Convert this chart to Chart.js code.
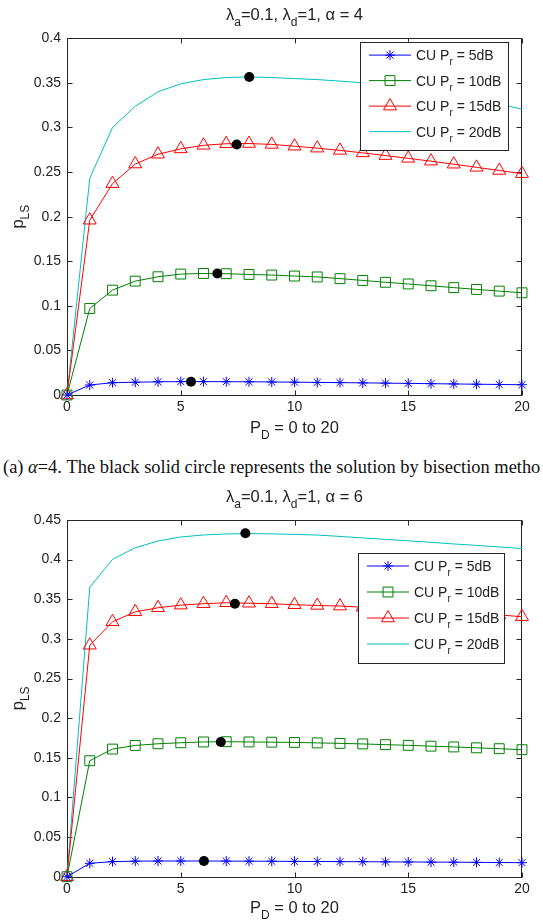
<!DOCTYPE html>
<html><head><meta charset="utf-8">
<script src="https://cdn.jsdelivr.net/npm/chart.js@4.4.0/dist/chart.umd.min.js"></script>
<style>
html,body{margin:0;padding:0;background:#fff;width:543px;height:920px;overflow:hidden;}
.wrap{position:absolute;left:0;width:543px;}
#w1{top:0;height:445px}
#w2{top:480px;height:440px}
#cap{position:absolute;left:3px;top:456px;white-space:nowrap;font-family:"Liberation Serif","DejaVu Serif",serif;font-size:16px;line-height:22px;color:#111;}
</style></head><body>
<div class="wrap" id="w1"><canvas id="c1"></canvas></div>
<div id="cap">(a) <i>α</i>=4. The black solid circle represents the solution by bisection metho</div>
<div class="wrap" id="w2"><canvas id="c2"></canvas></div>
<script>
// ---------- data ----------
const pd = [0,1,2,3,4,5,6,7,8,9,10,11,12,13,14,15,16,17,18,19,20];
const xTicks = [0,5,10,15,20];
const xTickLabels = ['0','5','10','15','20'];
const yTicksA = [0,0.05,0.1,0.15,0.2,0.25,0.3,0.35,0.4];
const yTickLabelsA = ['0','0.05','0.1','0.15','0.2','0.25','0.3','0.35','0.4'];
const yTicksB = [0,0.05,0.1,0.15,0.2,0.25,0.3,0.35,0.4,0.45];
const yTickLabelsB = ['0','0.05','0.1','0.15','0.2','0.25','0.3','0.35','0.4','0.45'];
const seriesLabels = ['CU P_r = 5dB','CU P_r = 10dB','CU P_r = 15dB','CU P_r = 20dB'];

// alpha = 4
const a4_5dB  = [0,0.0112,0.0138,0.0143,0.0148,0.0150,0.0150,0.0149,0.0148,0.0146,0.0144,0.0141,0.0139,0.0136,0.0133,0.0130,0.0127,0.0124,0.0121,0.0118,0.0115];
const a4_10dB = [0,0.0970,0.1176,0.1277,0.1326,0.1356,0.1363,0.1360,0.1352,0.1345,0.1334,0.1324,0.1305,0.1285,0.1264,0.1245,0.1225,0.1204,0.1184,0.1165,0.1146];
const a4_15dB = [0,0.1960,0.2370,0.2590,0.2700,0.2760,0.2800,0.2818,0.2820,0.2810,0.2790,0.2768,0.2743,0.2715,0.2685,0.2654,0.2622,0.2588,0.2553,0.2518,0.2482];
const a4_20dB = [0,0.2430,0.3000,0.3238,0.3400,0.3490,0.3537,0.3560,0.3567,0.3560,0.3548,0.3537,0.3520,0.3500,0.3470,0.3437,0.3402,0.3362,0.3318,0.3262,0.3205];
const a4_optX = [5.45,6.61,7.46,8.01];
const a4_optY = [0.0149,0.1363,0.2810,0.3567];

// alpha = 6
const a6_5dB  = [0,0.0169,0.0190,0.0196,0.0198,0.0198,0.0198,0.0197,0.0196,0.0195,0.0193,0.0192,0.0190,0.0189,0.0187,0.0186,0.0184,0.0183,0.0181,0.0179,0.0177];
const a6_10dB = [0,0.1463,0.1610,0.1656,0.1677,0.1690,0.1700,0.1703,0.1700,0.1697,0.1694,0.1688,0.1682,0.1675,0.1666,0.1657,0.1647,0.1637,0.1626,0.1615,0.1602];
const a6_15dB = [0,0.2920,0.3216,0.3342,0.3393,0.3426,0.3444,0.3456,0.3450,0.3444,0.3431,0.3422,0.3414,0.3400,0.3387,0.3372,0.3356,0.3340,0.3322,0.3302,0.3280];
const a6_20dB = [0,0.3650,0.4004,0.4150,0.4235,0.4286,0.4311,0.4324,0.4328,0.4325,0.4318,0.4310,0.4293,0.4274,0.4255,0.4237,0.4218,0.4198,0.4180,0.4160,0.4140];
const a6_optX = [6.02,6.76,7.38,7.84];
const a6_optY = [0.0198,0.1699,0.3444,0.4332];

// ---------- styling ----------
const FONT = '"Liberation Sans", Arial, Helvetica, sans-serif';
const TXT = '#222';
const AXIS = '#262626';
const COLORS = ['#0000ff','#008000','#ff0000','#00bfbf'];
const STYLES = [['star',5],['rect',7],['triangle',7.5],[false,0]];
const BIG = {size:16.5,subSize:12,subDy:6,align:'center'};

function parseRich(s){
  const out=[]; let i=0, buf='';
  while(i<s.length){
    if(s[i]==='_'){
      if(buf){out.push({t:buf,sub:false});buf='';}
      if(s[i+1]==='{'){const j=s.indexOf('}',i); out.push({t:s.slice(i+2,j),sub:true}); i=j+1;}
      else {out.push({t:s[i+1],sub:true}); i+=2;}
    } else {buf+=s[i]; i++;}
  }
  if(buf) out.push({t:buf,sub:false});
  return out;
}
function drawRich(ctx, s, x, y, o){
  const segs=parseRich(s);
  const mf=o.size+'px '+FONT, sf=o.subSize+'px '+FONT;
  let w=0; segs.forEach(g=>{ctx.font=g.sub?sf:mf; g.w=ctx.measureText(g.t).width; w+=g.w;});
  let cx = o.align==='center' ? x-w/2 : x;
  ctx.textAlign='left'; ctx.textBaseline='alphabetic'; ctx.fillStyle=TXT;
  const base = y + o.size*0.36;
  segs.forEach(g=>{ctx.font=g.sub?sf:mf; ctx.fillText(g.t, cx, g.sub?base+o.subDy:base); cx+=g.w;});
}

const matlabPlugin = {
  id:'matlab',
  beforeDatasetsDraw(chart){
    const {ctx, chartArea:ca, scales:{x,y}} = chart;
    ctx.save(); ctx.strokeStyle=AXIS; ctx.lineWidth=1;
    const L=Math.round(ca.left)+.5, R=Math.round(ca.right)-.5, T=Math.round(ca.top)+.5, B=Math.round(ca.bottom)+.5;
    ctx.strokeRect(L,T,R-L,B-T);
    ctx.beginPath();
    x.ticks.forEach(t=>{const p=Math.round(x.getPixelForValue(t.value))+.5; ctx.moveTo(p,B); ctx.lineTo(p,B-5); ctx.moveTo(p,T); ctx.lineTo(p,T+5);});
    y.ticks.forEach(t=>{const p=Math.round(y.getPixelForValue(t.value))+.5; ctx.moveTo(L,p); ctx.lineTo(L+5,p); ctx.moveTo(R,p); ctx.lineTo(R-5,p);});
    ctx.stroke(); ctx.restore();
  },
  afterDraw(chart, args, o){
    const {ctx, chartArea:ca} = chart;
    ctx.save();
    const cxm=(ca.left+ca.right)/2, cym=(ca.top+ca.bottom)/2;
    drawRich(ctx, o.title, cxm, ca.top-o.titleGap, BIG);
    drawRich(ctx, o.xTitle, cxm, ca.bottom+o.xTitleGap, BIG);
    ctx.save(); ctx.translate(17, cym); ctx.rotate(-Math.PI/2);
    drawRich(ctx, o.yTitle, 0, 0, BIG);
    ctx.restore();
    // legend
    const lg=o.legend;
    const right=ca.right-lg.rightGap, left=right-lg.width, top=ca.top+lg.topGap;
    ctx.fillStyle='#fff'; ctx.fillRect(left,top,lg.width,lg.height);
    ctx.strokeStyle=AXIS; ctx.lineWidth=1;
    ctx.strokeRect(Math.round(left)+.5,Math.round(top)+.5,Math.round(lg.width),Math.round(lg.height));
    let row=0;
    chart.data.datasets.forEach(ds=>{
      if(!ds.inLegend) return;
      const yy=top+lg.firstRow+row*lg.rowGap;
      ctx.strokeStyle=ds.borderColor; ctx.lineWidth=1;
      ctx.beginPath(); ctx.moveTo(left+9,yy); ctx.lineTo(left+51,yy); ctx.stroke();
      if(ds.pointStyle && ds.pointRadius>0){
        ctx.fillStyle='rgba(0,0,0,0)'; ctx.strokeStyle=ds.borderColor; ctx.lineWidth=1;
        Chart.helpers.drawPoint(ctx,{pointStyle:ds.pointStyle,radius:ds.pointRadius,borderWidth:1,rotation:0},left+30,yy);
      }
      drawRich(ctx, ds.label, left+56, yy, {size:14,subSize:10,subDy:5,align:'left'});
      row++;
    });
    ctx.restore();
  }
};

function buildDatasets(series, optX, optY){
  const ds = series.map((ys,k)=>({
    label: seriesLabels[k], inLegend:true,
    data: pd.map((x,i)=>({x:x,y:ys[i]})),
    borderColor: COLORS[k], backgroundColor:'rgba(0,0,0,0)', borderWidth:1,
    pointStyle: STYLES[k][0], pointRadius: STYLES[k][1], pointHoverRadius: STYLES[k][1],
    pointBorderColor: COLORS[k], pointBackgroundColor:'rgba(0,0,0,0)', pointBorderWidth:1,
    tension:0, clip:false, order:2+k
  }));
  ds.push({label:'bisection', inLegend:false,
    data: optX.map((x,i)=>({x:x,y:optY[i]})), showLine:false,
    pointStyle:'circle', pointRadius:5, pointHoverRadius:5,
    pointBackgroundColor:'#000', pointBorderColor:'#000', pointBorderWidth:0,
    borderColor:'#000', clip:false, order:0});
  return ds;
}

function makeChart(id, series, optX, optY, yMax, yTicks, yLabels, pad, xAxisH, mopts){
  return new Chart(document.getElementById(id), {
    type:'line',
    data:{datasets: buildDatasets(series, optX, optY)},
    options:{
      responsive:true, maintainAspectRatio:false, animation:false,
      layout:{padding:pad},
      plugins:{legend:{display:false}, title:{display:false}, tooltip:{enabled:false}, matlab:mopts},
      events:[],
      scales:{
        x:{type:'linear', min:0, max:20,
          afterBuildTicks:s=>{s.ticks=xTicks.map(v=>({value:v}));},
          afterFit:s=>{s.height=xAxisH;},
          ticks:{callback:(v,i)=>xTickLabels[i], font:{family:FONT,size:14}, color:TXT, padding:4, maxRotation:0, autoSkip:false},
          grid:{display:false, drawTicks:false}, border:{display:false}},
        y:{type:'linear', min:0, max:yMax,
          afterBuildTicks:s=>{s.ticks=yTicks.map(v=>({value:v}));},
          afterFit:s=>{s.width=67;},
          ticks:{callback:(v,i)=>yLabels[i], font:{family:FONT,size:14}, color:TXT, padding:6, autoSkip:false},
          grid:{display:false, drawTicks:false}, border:{display:false}}
      }
    },
    plugins:[matlabPlugin]
  });
}

makeChart('c1', [a4_5dB,a4_10dB,a4_15dB,a4_20dB], a4_optX, a4_optY, 0.4, yTicksA, yTickLabelsA,
  {left:0,right:21,top:38.3,bottom:0}, 50,
  {title:'λ_a=0.1, λ_d=1, α = 4', xTitle:'P_D = 0 to 20', yTitle:'p_{LS}', titleGap:24, xTitleGap:32,
   legend:{rightGap:14, topGap:3.5, width:148, height:108, firstRow:13.3, rowGap:25.5}});

makeChart('c2', [a6_5dB,a6_10dB,a6_15dB,a6_20dB], a6_optX, a6_optY, 0.45, yTicksB, yTickLabelsB,
  {left:0,right:21,top:40,bottom:0}, 43.3,
  {title:'λ_a=0.1, λ_d=1, α = 6', xTitle:'P_D = 0 to 20', yTitle:'p_{LS}', titleGap:24, xTitleGap:30,
   legend:{rightGap:18, topGap:33, width:146, height:110, firstRow:13, rowGap:26}});

// fit caption width
const cap=document.getElementById('cap');
const cw=cap.getBoundingClientRect().width;
cap.style.fontSize=(16*538/cw)+'px';
</script>
</body></html>
